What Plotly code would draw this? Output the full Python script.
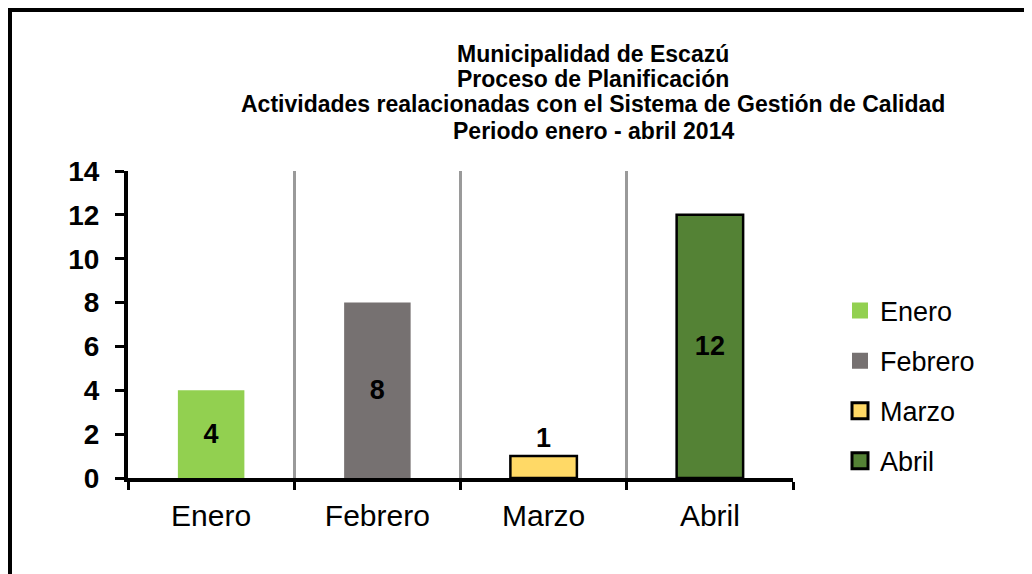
import plotly.graph_objects as go

months = ["Enero", "Febrero", "Marzo", "Abril"]
values = [4, 8, 1, 12]
colors = ["#92D050", "#767171", "#FFD966", "#548235"]
outlines = [0, 0, 2.5, 2.5]
label_pos = ["inside", "inside", "outside", "inside"]
title_lines = [
    "Municipalidad de Escazú",
    "Proceso de Planificación",
    "Actividades realacionadas con el Sistema de Gestión de Calidad",
    "Periodo enero - abril 2014",
]

FONT = "Liberation Sans, Arial, sans-serif"

fig = go.Figure()
for i, m in enumerate(months):
    fig.add_trace(go.Bar(
        x=[m], y=[values[i]], name=m, showlegend=False,
        marker=dict(color=colors[i], line=dict(color="black", width=outlines[i])),
        width=0.4,
        text=[str(values[i])], textposition=label_pos[i],
        insidetextanchor="middle",
        textfont=dict(family=FONT, size=27, color="black", weight="bold"),
        legendgroup=m, cliponaxis=False,
    ))
# legend entries (larger square keys)
for i, m in enumerate(months):
    fig.add_trace(go.Scatter(
        x=[None], y=[None], name=m, mode="markers", legendgroup=m,
        marker=dict(symbol="square", size=16, color=colors[i],
                    line=dict(color="black", width=outlines[i] * 1.2)),
    ))

# body margin of the html page is 8px -> figure is drawn 8px lower/right
W, H = 1024, 566
L, R, T, B = 120, 239, 163, 96
pw, ph = W - L - R, H - T - B

def px_x(px):  # figure pixel -> paper x
    return (px - L) / pw

def px_y(py):  # figure pixel -> paper y
    return (H - B - py) / ph

fig.update_layout(
    width=W, height=H,
    margin=dict(l=L, r=R, t=T, b=B),
    plot_bgcolor="white", paper_bgcolor="white",
    barmode="overlay",
    showlegend=True,
    legend=dict(
        x=px_x(832), y=px_y(378), xanchor="left", yanchor="middle",
        font=dict(family=FONT, size=27, color="black"),
        traceorder="grouped", tracegroupgap=12,
        bgcolor="rgba(0,0,0,0)", itemsizing="trace",
    ),
    xaxis=dict(
        type="category", categoryorder="array", categoryarray=months,
        tickson="boundaries", showgrid=True, gridcolor="#9A9A9A", gridwidth=3,
        showline=True, linecolor="black", linewidth=4,
        ticks="outside", ticklen=8, tickwidth=3, tickcolor="black",
        ticklabelstandoff=8,
        tickfont=dict(family=FONT, size=30, color="black"),
        range=[-0.5, 3.5],
    ),
    yaxis=dict(
        range=[0, 14], dtick=2, showgrid=False, zeroline=False,
        showline=True, linecolor="black", linewidth=4,
        ticks="outside", ticklen=9, tickwidth=3, tickcolor="black",
        ticklabelstandoff=10,
        tickfont=dict(family=FONT, size=28, color="black", weight="bold"),
    ),
)

# title lines
title_y = [46, 71, 96, 123]
for txt, py in zip(title_lines, title_y):
    fig.add_annotation(
        text=txt, xref="paper", yref="paper",
        x=px_x(585), y=px_y(py),
        xanchor="center", yanchor="middle", showarrow=False,
        font=dict(family=FONT, size=23, color="black", weight="bold"),
    )

# chart border
fig.add_shape(
    type="rect", xref="paper", yref="paper",
    x0=px_x(2), x1=px_x(1040),
    y0=px_y(600), y1=px_y(2),
    line=dict(color="black", width=4), fillcolor="rgba(0,0,0,0)", layer="below",
)

fig.write_html("out.html")
